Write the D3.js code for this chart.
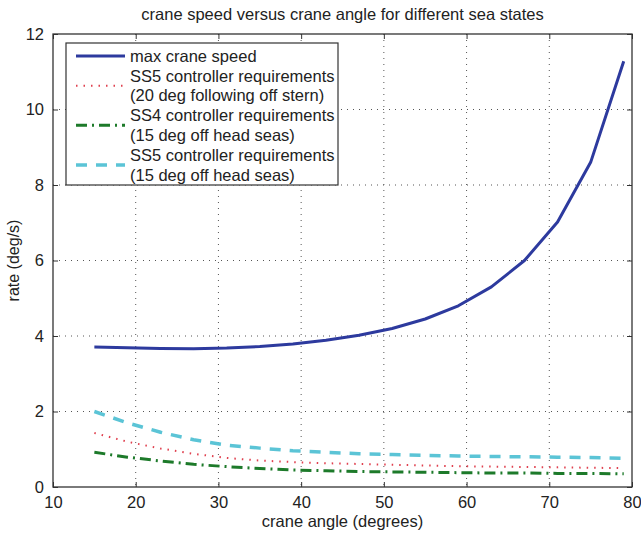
<!DOCTYPE html>
<html lang="en">
<head>
    <meta charset="UTF-8">
    <script src="https://d3js.org/d3.v7.min.js"></script>
    <title>crane speed</title>
    <style>
        body { margin: 0; background: #fff; }
        text { font-family: "Liberation Sans", Arial, sans-serif; fill: #222; }
    </style>
</head>
<body>
<script>
    // Data
    const angles = [15, 19, 23, 27, 31, 35, 39, 43, 47, 51, 55, 59, 63, 67, 71, 75, 79];
    const maxSpeed = [3.71, 3.69, 3.67, 3.66, 3.68, 3.72, 3.79, 3.89, 4.02, 4.20, 4.45, 4.80, 5.30, 6.00, 7.02, 8.60, 11.28];
    const ss5Stern = [1.43, 1.20, 1.02, 0.88, 0.77, 0.70, 0.66, 0.63, 0.61, 0.59, 0.57, 0.55, 0.54, 0.53, 0.52, 0.51, 0.50];
    const ss4Head = [0.92, 0.79, 0.69, 0.60, 0.54, 0.49, 0.45, 0.43, 0.41, 0.40, 0.39, 0.38, 0.37, 0.37, 0.36, 0.36, 0.35];
    const ss5Head = [2.00, 1.70, 1.45, 1.25, 1.11, 1.03, 0.96, 0.92, 0.88, 0.86, 0.84, 0.82, 0.81, 0.80, 0.79, 0.78, 0.76];
    const xTicks = [10, 20, 30, 40, 50, 60, 70, 80];
    const yTicks = [0, 2, 4, 6, 8, 10, 12];

    const series = [
        {label: ["max crane speed"], values: maxSpeed, color: "#2d3a9e", width: 3, dash: null},
        {label: ["SS5 controller requirements", "(20 deg following off stern)"], values: ss5Stern, color: "#e0404f", width: 2, dash: "1.5,6"},
        {label: ["SS4 controller requirements", "(15 deg off head seas)"], values: ss4Head, color: "#1d7a2a", width: 3, dash: "11,5,2,5"},
        {label: ["SS5 controller requirements", "(15 deg off head seas)"], values: ss5Head, color: "#5bc4d6", width: 3.5, dash: "11,9"}
    ];

    const margin = {top: 34, right: 9, bottom: 46, left: 53};
    const W = 641, H = 533;
    const width = W - margin.left - margin.right;
    const height = H - margin.top - margin.bottom;

    const svg = d3.select("body").append("svg")
        .attr("width", W)
        .attr("height", H);
    const g = svg.append("g")
        .attr("transform", "translate(" + margin.left + "," + margin.top + ")");

    const x = d3.scaleLinear().domain([10, 80]).range([0, width]);
    const y = d3.scaleLinear().domain([0, 12]).range([height, 0]);

    // Grid (dotted)
    g.append("g").selectAll("line")
        .data(xTicks.slice(1, -1))
        .enter().append("line")
        .attr("x1", d => x(d)).attr("x2", d => x(d))
        .attr("y1", 0).attr("y2", height)
        .attr("stroke", "#555").attr("stroke-width", 1)
        .attr("stroke-dasharray", "1,5");
    g.append("g").selectAll("line")
        .data(yTicks.slice(1, -1))
        .enter().append("line")
        .attr("y1", d => y(d)).attr("y2", d => y(d))
        .attr("x1", 0).attr("x2", width)
        .attr("stroke", "#555").attr("stroke-width", 1)
        .attr("stroke-dasharray", "1,5");

    // Axes, ticks inward, box
    const axStyle = sel => {
        sel.select(".domain").remove();
        sel.selectAll("line").attr("stroke", "#333");
        sel.selectAll("text").style("font-size", "16.5px").attr("fill", "#222");
    };
    g.append("g")
        .attr("transform", "translate(0," + height + ")")
        .call(d3.axisBottom(x).tickValues(xTicks).tickSizeInner(-5).tickSizeOuter(0).tickPadding(9))
        .call(axStyle);
    g.append("g")
        .call(d3.axisTop(x).tickValues(xTicks).tickSizeInner(-5).tickSizeOuter(0).tickFormat(""))
        .call(axStyle);
    g.append("g")
        .call(d3.axisLeft(y).tickValues(yTicks).tickSizeInner(-5).tickSizeOuter(0).tickPadding(9))
        .call(axStyle);
    g.append("g")
        .attr("transform", "translate(" + width + ",0)")
        .call(d3.axisRight(y).tickValues(yTicks).tickSizeInner(-5).tickSizeOuter(0).tickFormat(""))
        .call(axStyle);
    g.append("rect")
        .attr("width", width).attr("height", height)
        .attr("fill", "none").attr("stroke", "#333").attr("stroke-width", 1.3);

    // Lines
    const line = d3.line()
        .x((d, i) => x(angles[i]))
        .y(d => y(d));
    series.forEach(s => {
        g.append("path")
            .datum(s.values)
            .attr("fill", "none")
            .attr("stroke", s.color)
            .attr("stroke-width", s.width)
            .attr("stroke-dasharray", s.dash)
            .attr("stroke-linejoin", "round")
            .attr("d", line);
    });

    // Legend
    const lg = g.append("g").attr("transform", "translate(13,9)");
    lg.append("rect")
        .attr("width", 272).attr("height", 142)
        .attr("fill", "#fff").attr("stroke", "#333").attr("stroke-width", 1.2);
    const rowH = 19.8;
    let row = 0;
    series.forEach(s => {
        const cy = 13 + row * rowH + (s.label.length - 1) * rowH / 2;
        lg.append("line")
            .attr("x1", 10).attr("x2", 59)
            .attr("y1", cy).attr("y2", cy)
            .attr("stroke", s.color)
            .attr("stroke-width", s.width)
            .attr("stroke-dasharray", s.dash);
        s.label.forEach((t, k) => {
            lg.append("text")
                .attr("x", 64)
                .attr("y", 13 + (row + k) * rowH)
                .attr("dy", "0.35em")
                .style("font-size", "16.5px")
                .text(t);
        });
        row += s.label.length;
    });

    // Titles
    svg.append("text")
        .attr("x", margin.left + width / 2)
        .attr("y", 20)
        .attr("text-anchor", "middle")
        .style("font-size", "16.5px")
        .text("crane speed versus crane angle for different sea states");
    svg.append("text")
        .attr("x", margin.left + width / 2)
        .attr("y", 527)
        .attr("text-anchor", "middle")
        .style("font-size", "16.5px")
        .text("crane angle (degrees)");
    svg.append("text")
        .attr("transform", "translate(19," + (margin.top + height / 2) + ") rotate(-90)")
        .attr("text-anchor", "middle")
        .style("font-size", "16px")
        .text("rate (deg/s)");
</script>
</body>
</html>
